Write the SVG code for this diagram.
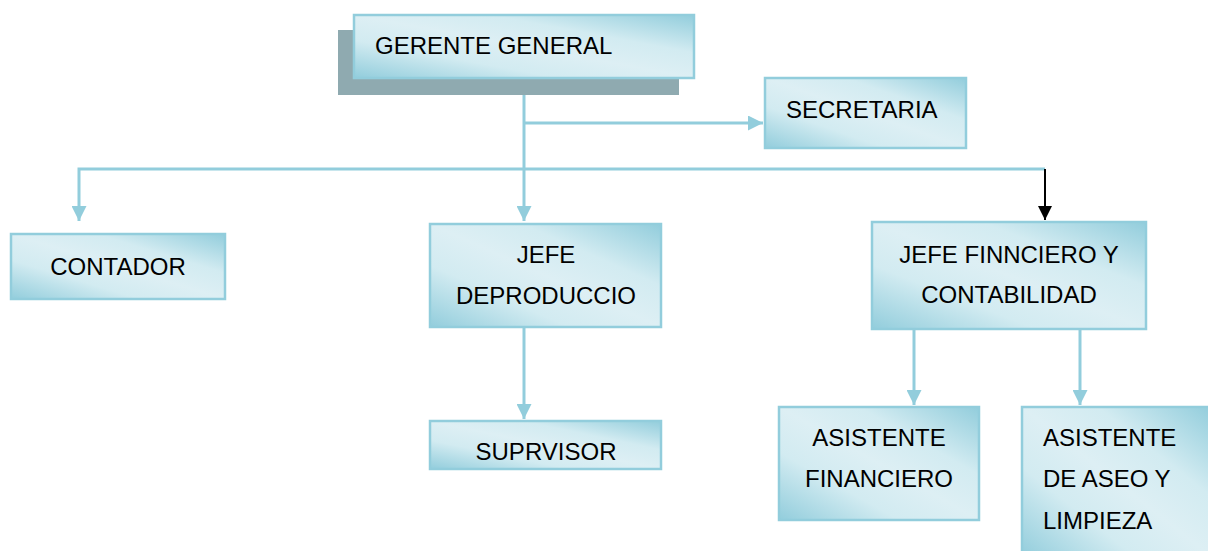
<svg xmlns="http://www.w3.org/2000/svg" width="1208" height="551" viewBox="0 0 1208 551">
<defs>
<linearGradient id="g" x1="1" y1="0" x2="0" y2="1">
<stop offset="0" stop-color="#92CDDC"/>
<stop offset="0.3" stop-color="#D2EBF1"/>
<stop offset="0.5" stop-color="#DDEFF4"/>
<stop offset="0.7" stop-color="#D2EBF1"/>
<stop offset="1" stop-color="#92CDDC"/>
</linearGradient>
<marker id="ab" viewBox="0 0 10 10" refX="10" refY="5" markerWidth="5" markerHeight="5" orient="auto" markerUnits="strokeWidth">
<path d="M0,0 L10,5 L0,10 Z" fill="#92CDDC"/>
</marker>
<marker id="ak" viewBox="0 0 10 10" refX="10" refY="5" markerWidth="7" markerHeight="7" orient="auto" markerUnits="strokeWidth">
<path d="M0,0 L10,5 L0,10 Z" fill="#000"/>
</marker>
</defs>
<style>
.box{fill:url(#g);stroke:#92CDDC;stroke-width:2.5}
.t{font-family:"Liberation Sans",Arial,sans-serif;font-size:24px;fill:#000}
.c{text-anchor:middle}
.ln{fill:none;stroke:#92CDDC;stroke-width:3}
</style>
<g id="connectors">
<path class="ln" d="M524,79 V221" marker-end="url(#ab)"/>
<path class="ln" d="M524,123 H763" marker-end="url(#ab)"/>
<path class="ln" d="M1045,169 H79 V221" marker-end="url(#ab)"/>
<path d="M1045,169 V220" fill="none" stroke="#000" stroke-width="2" marker-end="url(#ak)"/>
<path class="ln" d="M524,328 V419" marker-end="url(#ab)"/>
<path class="ln" d="M914,330 V405" marker-end="url(#ab)"/>
<path class="ln" d="M1080,330 V405" marker-end="url(#ab)"/>
</g>
<g id="gerente">
<rect x="338" y="30" width="341" height="65" fill="#8FAAB0"/>
<rect class="box" x="354" y="15" width="340" height="63"/>
<text class="t" x="375" y="54">GERENTE GENERAL</text>
</g>
<g id="secretaria">
<rect class="box" x="765" y="78" width="201" height="70"/>
<text class="t" x="786" y="118">SECRETARIA</text>
</g>
<g id="contador">
<rect class="box" x="11" y="234" width="214" height="65"/>
<text class="t c" x="118" y="275">CONTADOR</text>
</g>
<g id="jefe-produccion">
<rect class="box" x="430" y="224" width="231" height="103"/>
<text class="t c" x="546" y="263">JEFE</text>
<text class="t c" x="546" y="304">DEPRODUCCIO</text>
</g>
<g id="supervisor">
<rect class="box" x="430" y="421" width="231" height="48"/>
<text class="t c" x="546" y="460">SUPRVISOR</text>
</g>
<g id="jefe-financiero">
<rect class="box" x="872" y="222" width="274" height="107"/>
<text class="t c" x="1009" y="263">JEFE FINNCIERO Y</text>
<text class="t c" x="1009" y="303">CONTABILIDAD</text>
</g>
<g id="asistente-financiero">
<rect class="box" x="779" y="407" width="200" height="113"/>
<text class="t c" x="879" y="446">ASISTENTE</text>
<text class="t c" x="879" y="487">FINANCIERO</text>
</g>
<g id="asistente-aseo">
<rect class="box" x="1022" y="407" width="190" height="150"/>
<text class="t" x="1043" y="446">ASISTENTE</text>
<text class="t" x="1043" y="487">DE ASEO Y</text>
<text class="t" x="1043" y="529">LIMPIEZA</text>
</g>
</svg>
